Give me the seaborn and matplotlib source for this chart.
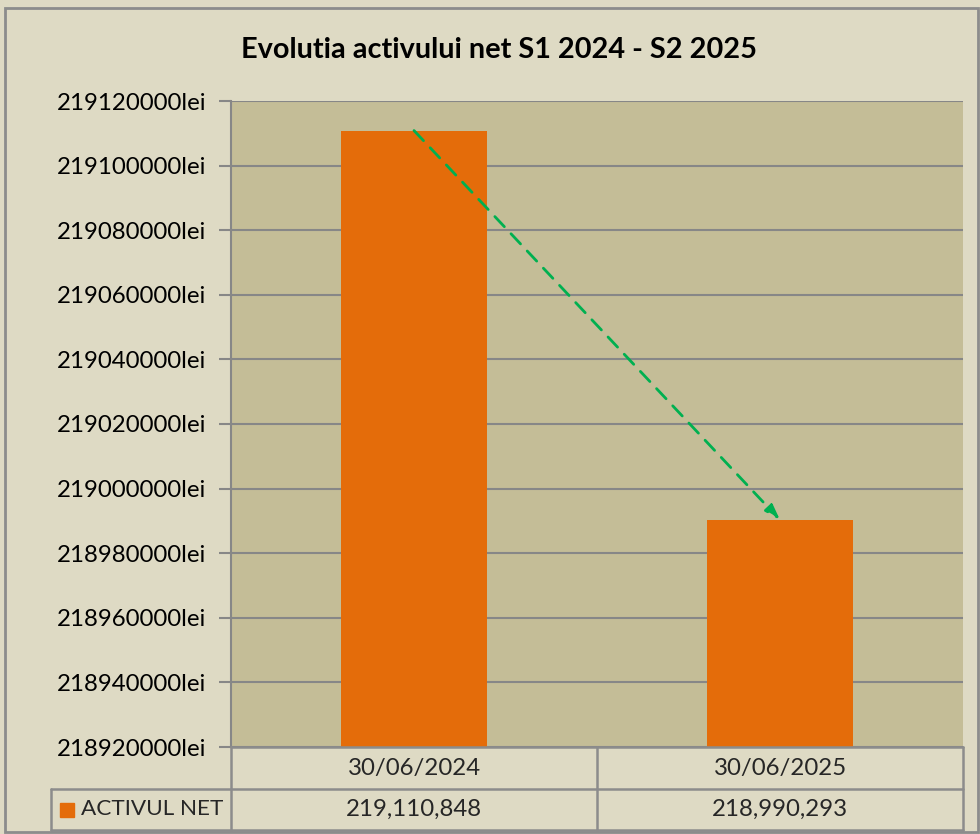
import seaborn as sns
import matplotlib.pyplot as plt
import matplotlib.ticker as mticker
from matplotlib.patches import Rectangle
import pandas as pd

dates = ['30/06/2024', '30/06/2025']
activ_net = [219110848, 218990293]
series_name = 'ACTIVUL NET'
title = 'Evolutia activului net S1 2024 - S2 2025'
y_min, y_max, y_step = 218920000, 219120000, 20000

sns.set_style("white")
plt.rcParams['font.family'] = ['Lato', 'DejaVu Sans']

W, H = 980, 834
fig = plt.figure(figsize=(W / 100, H / 100), dpi=100)
fig.patch.set_facecolor('#DEDAC4')

# pixel helper (top-left origin)
def fx(x):
    return x / W

def fy(y):
    return 1 - y / H

left, right, top, bottom = 231, 963, 101, 747
ax = fig.add_axes([fx(left), fy(bottom), fx(right - left), (bottom - top) / H])
ax.set_facecolor('#C4BD97')

df = pd.DataFrame({'date': dates, 'value': activ_net})
sns.barplot(data=df, x='date', y='value', color='#E46C0A', width=0.4,
            saturation=1, linewidth=0, ax=ax, zorder=3)

ax.set_ylim(y_min, y_max)
ax.set_xlim(-0.5, 1.5)
ax.yaxis.set_major_locator(mticker.MultipleLocator(y_step))
ax.yaxis.set_major_formatter(mticker.FuncFormatter(lambda v, p: f'{int(round(v))}lei'))
ax.grid(axis='y', color='#878787', linewidth=1.5, zorder=0)
ax.set_axisbelow(True)
ax.tick_params(axis='y', length=9, width=1.5, color='#878787', labelsize=17.3,
               pad=8.7, left=True, labelcolor='black')
ax.tick_params(axis='x', bottom=False, labelbottom=False)
ax.set_xlabel('')
ax.set_ylabel('')
for s in ['top', 'right', 'bottom']:
    ax.spines[s].set_visible(False)
ax.spines['left'].set_color('#878787')
ax.spines['left'].set_linewidth(1.5)

# trend arrow
ax.annotate('', xy=(1, activ_net[1]), xytext=(0, activ_net[0]),
            arrowprops=dict(arrowstyle='-|>,head_length=0.9,head_width=0.3',
                            color='#00B050', linestyle=(0, (5, 3.5)), linewidth=2,
                            shrinkA=0, shrinkB=0),
            zorder=5)

fig.text(fx(499), fy(50), title, ha='center', va='center', fontsize=20.8,
         fontweight='bold', color='black')

# data table under the chart
gc = '#8C8C8C'
row1, row2, row3 = 747, 789, 830
mid = (left + right) / 2
lines = [
    ((left, right), (row1, row1)),
    ((51, right), (row2, row2)),
    ((51, right), (row3, row3)),
    ((left, left), (row1, row3)),
    ((mid, mid), (row1, row3)),
    ((right, right), (row1, row3)),
    ((51, 51), (row2, row3)),
]
for xs, ys in lines:
    fig.add_artist(plt.Line2D([fx(xs[0]), fx(xs[1])], [fy(ys[0]), fy(ys[1])],
                              color=gc, linewidth=1.8))
centers = [(left + mid) / 2, (mid + right) / 2]
for c, d, v in zip(centers, dates, activ_net):
    fig.text(fx(c), fy((row1 + row2) / 2), d, ha='center', va='center', fontsize=17.3)
    fig.text(fx(c), fy((row2 + row3) / 2), f'{v:,}', ha='center', va='center', fontsize=17.3)
fig.add_artist(Rectangle((fx(60), fy(817)), fx(14), 14 / H, color='#E46C0A'))
fig.text(fx(81), fy(809), series_name, ha='left', va='center', fontsize=16.2)

# outer border
fig.add_artist(Rectangle((fx(5), fy(832)), fx(973), 824 / H, fill=False,
                         edgecolor='#8C8C8C', linewidth=2))

fig.savefig('out.png', dpi=100, facecolor=fig.get_facecolor())
